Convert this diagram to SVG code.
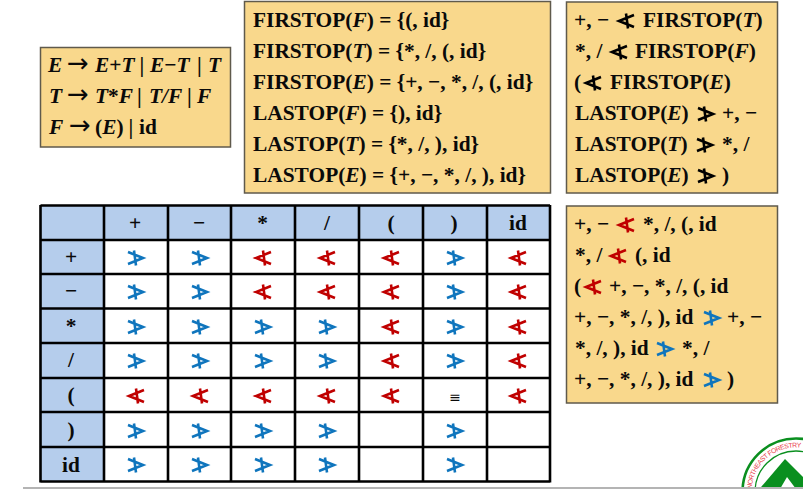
<svg xmlns="http://www.w3.org/2000/svg" xmlns:xlink="http://www.w3.org/1999/xlink" width="803" height="489" viewBox="0 0 803 489">
<style>
text{font-family:"Liberation Serif","Times New Roman",serif;font-weight:bold;font-size:21.4px;fill:#0a0a0a}
.i{font-style:italic}
.ar{font-family:"DejaVu Sans",sans-serif;font-weight:normal;font-size:26px}
.box{fill:#f9d88c;stroke:#5f5a4c;stroke-width:1.5}
.c{text-anchor:middle}
.hd{fill:#b5cdec}
.g{stroke:#000;stroke-width:2.6;fill:none}
.m{fill:none;stroke-width:2.6}
.gt{stroke:#0f75bd}
.lt{stroke:#c00000}
.kg{stroke:#000}
.lg{font-family:"Liberation Sans",sans-serif;font-size:6.8px;font-weight:normal;fill:#e8404a}
</style>
<defs>
<g id="gt" class="m"><path d="M-8-6L7 0L-8 6M-2-7.5L0 7.5"/></g>
<g id="lt" class="m"><path d="M8-6L-7 0L8 6M0-7.5L2 7.5"/></g>
<path id="arcT" d="M751.500 489A44.500 44.500 0 0 1 803 448"/>
<clipPath id="clip"><rect x="738" y="432" width="65" height="57"/></clipPath>
</defs>
<rect width="803" height="489" fill="#fff"/>
<g id="grammar">
<rect class="box" x="40.500" y="47.500" width="190" height="99.500"/>
<text y="72"><tspan x="48" class="i">E</tspan><tspan x="67" class="ar">→</tspan><tspan x="95" class="i">E</tspan>+<tspan class="i">T</tspan><tspan x="139.500">|</tspan><tspan x="150" class="i">E</tspan>−<tspan class="i">T</tspan><tspan x="197">|</tspan><tspan x="208" class="i">T</tspan></text>
<text y="103"><tspan x="49" class="i">T</tspan><tspan x="67" class="ar">→</tspan><tspan x="95" class="i">T</tspan>*<tspan class="i">F</tspan><tspan x="137">|</tspan><tspan x="149" class="i">T/F</tspan><tspan x="187">|</tspan><tspan x="197" class="i">F</tspan></text>
<text y="134"><tspan x="49" class="i">F</tspan><tspan x="69" class="ar">→</tspan><tspan x="95">(</tspan><tspan class="i">E</tspan>)<tspan x="128.500">|</tspan><tspan x="139">id</tspan></text>
</g>
<g id="sets">
<rect class="box" x="244.500" y="1.500" width="306" height="191.500"/>
<text x="253" y="26.500">FIRSTOP(<tspan class="i">F</tspan>) = {(, id}</text>
<text x="253" y="57.500">FIRSTOP(<tspan class="i">T</tspan>) = {*, /, (, id}</text>
<text x="253" y="88.500">FIRSTOP(<tspan class="i">E</tspan>) = {+, −, *, /, (, id}</text>
<text x="253" y="120">LASTOP(<tspan class="i">F</tspan>) = {), id}</text>
<text x="253" y="151">LASTOP(<tspan class="i">T</tspan>) = {*, /, ), id}</text>
<text x="253" y="182">LASTOP(<tspan class="i">E</tspan>) = {+, −, *, /, ), id}</text>
</g>
<g id="rules">
<rect class="box" x="566.500" y="2" width="211" height="191"/>
<text x="574" y="26.500">+, −</text><use xlink:href="#lt" href="#lt" class="kg" x="626" y="21"/><text x="643" y="26.500">FIRSTOP(<tspan class="i">T</tspan>)</text>
<text x="575" y="57.500">*, /</text><use xlink:href="#lt" href="#lt" class="kg" x="619" y="52"/><text x="635" y="57.500">FIRSTOP(<tspan class="i">F</tspan>)</text>
<text x="574" y="88.500">(</text><use xlink:href="#lt" href="#lt" class="kg" x="593" y="83"/><text x="610" y="88.500">FIRSTOP(<tspan class="i">E</tspan>)</text>
<text x="575" y="120">LASTOP(<tspan class="i">E</tspan>)</text><use xlink:href="#gt" href="#gt" class="kg" x="706" y="114"/><text x="722" y="120">+, −</text>
<text x="575" y="151">LASTOP(<tspan class="i">T</tspan>)</text><use xlink:href="#gt" href="#gt" class="kg" x="705" y="145"/><text x="722" y="151">*, /</text>
<text x="575" y="182">LASTOP(<tspan class="i">E</tspan>)</text><use xlink:href="#gt" href="#gt" class="kg" x="706" y="176"/><text x="722" y="182">)</text>
</g>
<g id="expanded">
<rect class="box" x="566.500" y="206" width="211" height="197"/>
<text x="574" y="231">+, −</text><use xlink:href="#lt" href="#lt" class="lt" x="626" y="225"/><text x="643" y="231">*, /, (, id</text>
<text x="575" y="262">*, /</text><use xlink:href="#lt" href="#lt" class="lt" x="618" y="256"/><text x="635" y="262">(, id</text>
<text x="574" y="293">(</text><use xlink:href="#lt" href="#lt" class="lt" x="593" y="287"/><text x="609" y="293">+, −, *, /, (, id</text>
<text x="574" y="324">+, −, *, /, ), id</text><use xlink:href="#gt" href="#gt" class="gt" x="712" y="318"/><text x="727" y="324">+, −</text>
<text x="575" y="355">*, /, ), id</text><use xlink:href="#gt" href="#gt" class="gt" x="665" y="349"/><text x="682" y="355">*, /</text>
<text x="574" y="386">+, −, *, /, ), id</text><use xlink:href="#gt" href="#gt" class="gt" x="712" y="380"/><text x="727" y="386">)</text>
</g>
<g id="table">
<rect class="hd" x="40" y="205" width="510" height="34.500"/>
<rect class="hd" x="40" y="239" width="64" height="242"/>
<path class="g" d="M40.500 205.500H550M40.500 240H550M40.500 274H550M40.500 308.500H550M40.500 343H550M40.500 378H550M40.500 412H550M40.500 447H550M40.500 481.500H550M40.500 205V482.500M104 205V482.500M168 205V482.500M231 205V482.500M295 205V482.500M359 205V482.500M423 205V482.500M487 205V482.500M550 205V482.500"/>
<g class="c">
<text x="135" y="230">+</text><text x="199" y="230">−</text><text x="262.500" y="230">*</text><text x="327" y="230">/</text><text x="391" y="230">(</text><text x="454" y="230">)</text><text x="518" y="230">id</text>
<text x="71" y="264">+</text><text x="71" y="298">−</text><text x="71" y="333">*</text><text x="71" y="367">/</text><text x="71" y="402">(</text><text x="71" y="437">)</text><text x="71" y="472">id</text>
<text x="455" y="402" style="font-family:'DejaVu Sans',sans-serif;font-weight:normal;font-size:14px">≡</text>
</g>
<g id="cells-gt" class="gt">
<use xlink:href="#gt" href="#gt" x="136" y="258"/><use xlink:href="#gt" href="#gt" x="200" y="258"/><use xlink:href="#gt" href="#gt" x="455" y="258"/>
<use xlink:href="#gt" href="#gt" x="136" y="292"/><use xlink:href="#gt" href="#gt" x="200" y="292"/><use xlink:href="#gt" href="#gt" x="455" y="292"/>
<use xlink:href="#gt" href="#gt" x="136" y="327"/><use xlink:href="#gt" href="#gt" x="200" y="327"/><use xlink:href="#gt" href="#gt" x="263" y="327"/><use xlink:href="#gt" href="#gt" x="327" y="327"/><use xlink:href="#gt" href="#gt" x="455" y="327"/>
<use xlink:href="#gt" href="#gt" x="136" y="361"/><use xlink:href="#gt" href="#gt" x="200" y="361"/><use xlink:href="#gt" href="#gt" x="263" y="361"/><use xlink:href="#gt" href="#gt" x="327" y="361"/><use xlink:href="#gt" href="#gt" x="455" y="361"/>
<use xlink:href="#gt" href="#gt" x="136" y="431"/><use xlink:href="#gt" href="#gt" x="200" y="431"/><use xlink:href="#gt" href="#gt" x="263" y="431"/><use xlink:href="#gt" href="#gt" x="327" y="431"/><use xlink:href="#gt" href="#gt" x="455" y="431"/>
<use xlink:href="#gt" href="#gt" x="136" y="465"/><use xlink:href="#gt" href="#gt" x="200" y="465"/><use xlink:href="#gt" href="#gt" x="263" y="465"/><use xlink:href="#gt" href="#gt" x="327" y="465"/><use xlink:href="#gt" href="#gt" x="455" y="465"/>
</g>
<g id="cells-lt" class="lt">
<use xlink:href="#lt" href="#lt" x="263" y="258"/><use xlink:href="#lt" href="#lt" x="327" y="258"/><use xlink:href="#lt" href="#lt" x="391" y="258"/><use xlink:href="#lt" href="#lt" x="518" y="258"/>
<use xlink:href="#lt" href="#lt" x="263" y="292"/><use xlink:href="#lt" href="#lt" x="327" y="292"/><use xlink:href="#lt" href="#lt" x="391" y="292"/><use xlink:href="#lt" href="#lt" x="518" y="292"/>
<use xlink:href="#lt" href="#lt" x="391" y="327"/><use xlink:href="#lt" href="#lt" x="518" y="327"/>
<use xlink:href="#lt" href="#lt" x="391" y="361"/><use xlink:href="#lt" href="#lt" x="518" y="361"/>
<use xlink:href="#lt" href="#lt" x="136" y="396"/><use xlink:href="#lt" href="#lt" x="200" y="396"/><use xlink:href="#lt" href="#lt" x="263" y="396"/><use xlink:href="#lt" href="#lt" x="327" y="396"/><use xlink:href="#lt" href="#lt" x="391" y="396"/><use xlink:href="#lt" href="#lt" x="518" y="396"/>
</g>
</g>
<g id="logo">
<g clip-path="url(#clip)">
<circle cx="796" cy="492" r="53.500" fill="#fff" stroke="#0a8f1f" stroke-width="2.600"/>
<circle cx="796" cy="492" r="41" fill="#fff" stroke="#0a8f1f" stroke-width="1.300"/>
<path d="M785 459L819 493H756Z" fill="#0a8f1f"/>
<path d="M780 489L787 477L796 489Z" fill="#fff"/>
</g>
<text class="lg"><textPath xlink:href="#arcT" href="#arcT" textLength="72" lengthAdjust="spacing">NORTHEAST FORESTRY</textPath></text>
</g>
<rect id="footer-rule" x="23" y="487" width="780" height="2" fill="#b4b4b4"/>
</svg>
